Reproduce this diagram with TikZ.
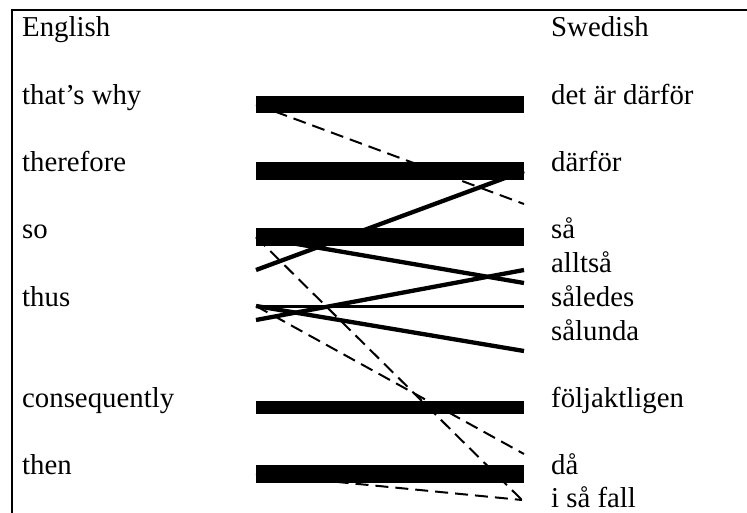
\documentclass[tikz,border=0pt]{standalone}
\usepackage{fontspec}
\setmainfont{Liberation Serif}
\begin{document}
\begin{tikzpicture}[x=1pt,y=-1pt,
  lbl/.style={inner sep=0pt,anchor=base west,font=\fontsize{28.8}{34}\selectfont},
  bar/.style={line width=17.5pt},
  link/.style={line width=4.3pt},
  thinlink/.style={line width=3pt},
  dlink/.style={line width=2pt,dash pattern=on 13pt off 7pt}]
\useasboundingbox (0,0) rectangle (747,513);
% frame: top and left rules
\draw[line width=2.6pt] (12,513) -- (12,10) -- (747,10);

% column headings
\node[lbl] (en) at (22,37) {English};
\node[lbl] (sv) at (551,37) {Swedish};

% English words
\node[lbl] (e1) at (22,104.3) {that’s why};
\node[lbl] (e2) at (22,171.6) {therefore};
\node[lbl] (e3) at (22,239) {so};
\node[lbl] (e4) at (22,306.3) {thus};
\node[lbl] (e5) at (22,407) {consequently};
\node[lbl] (e6) at (22,474.2) {then};

% Swedish words
\node[lbl] (s1) at (551,104.3) {det är därför};
\node[lbl] (s2) at (551,171.6) {därför};
\node[lbl] (s3) at (551,239) {så};
\node[lbl] (s4) at (551,272.6) {alltså};
\node[lbl] (s5) at (551,306.3) {således};
\node[lbl] (s6) at (551,340) {sålunda};
\node[lbl] (s7) at (551,407) {följaktligen};
\node[lbl] (s8) at (551,474.2) {då};
\node[lbl] (s9) at (551,507.6) {i så fall};

% link end points
\coordinate (la) at (256,104.5);  \coordinate (ra) at (524,104.5);
\coordinate (lb) at (256,171);    \coordinate (rb) at (524,171);
\coordinate (lc) at (256,237);    \coordinate (rc) at (524,237);
\coordinate (ld) at (256,407);    \coordinate (rd) at (524,407);
\coordinate (le) at (256,474);    \coordinate (re) at (524,474);
\coordinate (lt) at (256,306);    \coordinate (rt) at (524,306);
\coordinate (lt2) at (256,320);
\coordinate (lso) at (256,270);
\coordinate (rx1) at (524,204);
\coordinate (rx2) at (524,283);
\coordinate (rx3) at (524,270);
\coordinate (rx4) at (524,351);
\coordinate (rx5) at (524,454);
\coordinate (rx6) at (522,500);

% one-to-one correspondences
\draw[bar] (la) -- (ra);
\draw[bar] (lb) -- (rb);
\draw[bar] (lc) -- (rc);
\draw[line width=13pt] (ld) -- (rd);
\draw[bar] (le) -- (re);

% solid links
\draw[link] (lso) -- (rb);
\draw[link] (lc) -- (rx2);
\draw[thinlink] (lt) -- (rt);
\draw[link] (lt2) -- (rx3);
\draw[link] (lt) -- (rx4);

% dashed links
\draw[dlink] (la) -- (rx1);
\draw[dlink] (lc) -- (rx6);
\draw[dlink] (lt) -- (rx5);
\draw[dlink] (le) -- (rx6);
\end{tikzpicture}
\end{document}
